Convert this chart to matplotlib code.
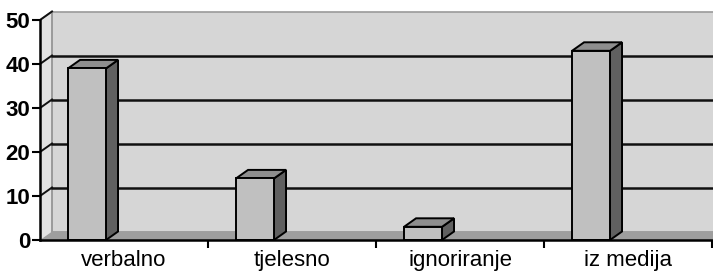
import matplotlib
matplotlib.use("Agg")
import matplotlib.pyplot as plt
from matplotlib.patches import Polygon

categories = ["verbalno", "tjelesno", "ignoriranje", "iz medija"]
values = [39, 14, 3, 43]
y_ticks = [0, 10, 20, 30, 40, 50]

W, H = 713, 272
fig = plt.figure(figsize=(W / 100, H / 100), dpi=100)
fig.patch.set_facecolor("white")
x0_px, x1_px, y0_px, y1_px = 40, 712, 240, 20
ax = fig.add_axes([x0_px / W, 1 - y0_px / H, (x1_px - x0_px) / W, (y0_px - y1_px) / H])
ncat = len(categories)
ymax = 50
ax.set_xlim(0, ncat)
ax.set_ylim(0, ymax)
ax.patch.set_visible(False)

pxx = (x1_px - x0_px) / ncat
pxy = (y0_px - y1_px) / ymax
dx = 12 / pxx
dy = 8.5 / pxy

# side wall
ax.add_patch(Polygon([(0, 0), (dx, dy), (dx, ymax + dy), (0, ymax)], closed=True,
                     facecolor="#e2e2e2", edgecolor="none", zorder=1, clip_on=False))
# back wall
ax.add_patch(Polygon([(dx, dy), (ncat + dx, dy), (ncat + dx, ymax + dy), (dx, ymax + dy)], closed=True,
                     facecolor="#d6d6d6", edgecolor="#9a9a9a", lw=1.2, zorder=1, clip_on=False))
ax.plot([0, dx], [ymax, ymax + dy], color="#9a9a9a", lw=1.2, zorder=1.1, clip_on=False)
ax.plot([dx, dx], [dy, ymax + dy], color="#9a9a9a", lw=1.2, zorder=1.1, clip_on=False)
# floor
ax.add_patch(Polygon([(0, 0), (ncat, 0), (ncat + dx, dy), (dx, dy)], closed=True,
                     facecolor="#9e9e9e", edgecolor="none", zorder=1.2, clip_on=False))

# gridlines
for v in y_ticks[1:-1]:
    ax.plot([dx, ncat + dx], [v + dy, v + dy], color="#111111", lw=1.8, zorder=1.5, clip_on=False)
for v in y_ticks[1:]:
    ax.plot([0, dx], [v, v + dy], color="#111111", lw=1.4, zorder=1.5, clip_on=False)

# bars
off, bw = 0.167, 0.226
for i, v in enumerate(values):
    xl = i + off
    xr = xl + bw
    front = Polygon([(xl, 0), (xr, 0), (xr, v), (xl, v)], closed=True,
                    facecolor="#c0c0c0", edgecolor="black", lw=1.4, zorder=3, clip_on=False)
    top = Polygon([(xl, v), (xr, v), (xr + dx, v + dy), (xl + dx, v + dy)], closed=True,
                  facecolor="#8e8e8e", edgecolor="black", lw=1.4, zorder=3, clip_on=False)
    side = Polygon([(xr, 0), (xr + dx, dy), (xr + dx, v + dy), (xr, v)], closed=True,
                   facecolor="#606060", edgecolor="black", lw=1.4, zorder=3, clip_on=False)
    for p in (side, top, front):
        ax.add_patch(p)

for s in ("top", "right"):
    ax.spines[s].set_visible(False)
for s in ("left", "bottom"):
    ax.spines[s].set_linewidth(1.8)
    ax.spines[s].set_zorder(4)

ax.set_yticks(y_ticks)
ax.set_yticklabels([str(t) for t in y_ticks], fontsize=16, fontweight="bold", family="Liberation Sans")
ax.tick_params(axis="y", length=6, width=1.5, pad=1)

ax.set_xticks(list(range(1, ncat + 1)))
ax.set_xticklabels([])
ax.set_xticks([i + 0.5 for i in range(ncat)], minor=True)
ax.set_xticklabels(categories, minor=True, fontsize=16, family="Liberation Sans")
ax.tick_params(axis="x", which="major", length=6, width=1.5)
ax.tick_params(axis="x", which="minor", length=0, pad=7.5)

fig.savefig("out.png", dpi=100, facecolor="white")
